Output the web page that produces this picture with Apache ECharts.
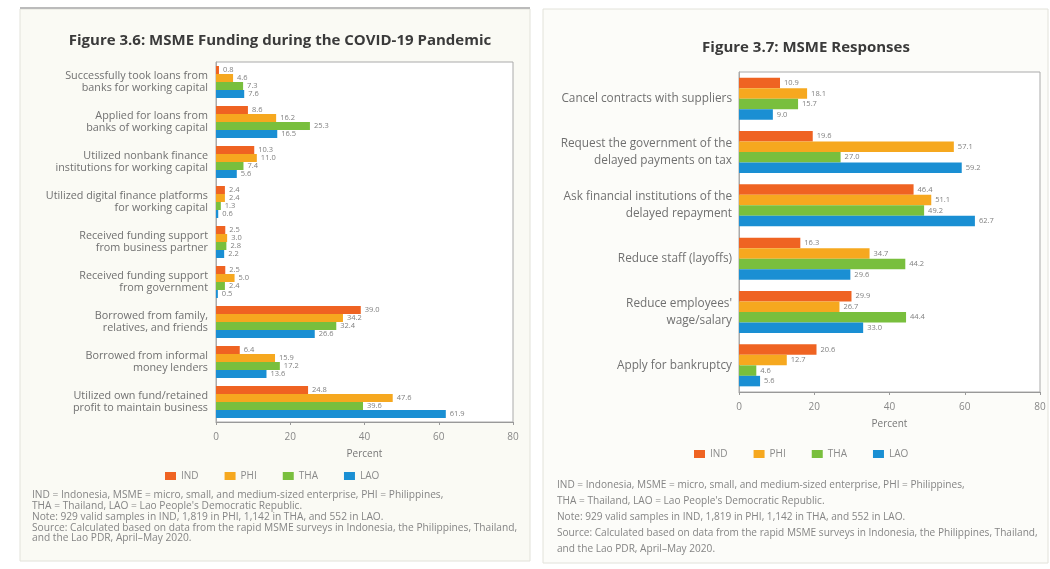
<!DOCTYPE html>
<html>
<head>
<meta charset="utf-8">
<script src="https://cdn.jsdelivr.net/npm/echarts@6/dist/echarts.min.js"></script>
<style>
  html, body { margin: 0; padding: 0; background: #ffffff; }
  #chart { width: 1050px; height: 569px; }
</style>
</head>
<body>
<div id="chart"></div>
<script>
// Figure 3.6 — funding sources (percent of MSMEs)
const fundingCategories = [
  'Successfully took loans from\nbanks for working capital',
  'Applied for loans from\nbanks of working capital',
  'Utilized nonbank finance\ninstitutions for working capital',
  'Utilized digital finance platforms\nfor working capital',
  'Received funding support\nfrom business partner',
  'Received funding support\nfrom government',
  'Borrowed from family,\nrelatives, and friends',
  'Borrowed from informal\nmoney lenders',
  'Utilized own fund/retained\nprofit to maintain business'
];
const fundingIND = [0.8, 8.6, 10.3, 2.4, 2.5, 2.5, 39.0, 6.4, 24.8];
const fundingPHI = [4.6, 16.2, 11.0, 2.4, 3.0, 5.0, 34.2, 15.9, 47.6];
const fundingTHA = [7.3, 25.3, 7.4, 1.3, 2.8, 2.4, 32.4, 17.2, 39.6];
const fundingLAO = [7.6, 16.5, 5.6, 0.6, 2.2, 0.5, 26.6, 13.6, 61.9];

// Figure 3.7 — responses (percent of MSMEs)
const responseCategories = [
  'Cancel contracts with suppliers',
  'Request the government of the\ndelayed payments on tax',
  'Ask financial institutions of the\ndelayed repayment',
  'Reduce staff (layoffs)',
  "Reduce employees'\nwage/salary",
  'Apply for bankruptcy'
];
const responseIND = [10.9, 19.6, 46.4, 16.3, 29.9, 20.6];
const responsePHI = [18.1, 57.1, 51.1, 34.7, 26.7, 12.7];
const responseTHA = [15.7, 27.0, 49.2, 44.2, 44.4, 4.6];
const responseLAO = [9.0, 59.2, 62.7, 29.6, 33.0, 5.6];

const countries = ['IND', 'PHI', 'THA', 'LAO'];
const percentTicks = [0, 20, 40, 60, 80];

const colors = ['#ef6322', '#f6a81f', '#79bf3d', '#1a8fd3'];
const FONT = '"Open Sans", "Noto Sans", sans-serif';

const notesLeft = [
  'IND = Indonesia, MSME = micro, small, and medium-sized enterprise, PHI = Philippines,',
  "THA = Thailand, LAO = Lao People's Democratic Republic.",
  'Note: 929 valid samples in IND, 1,819 in PHI, 1,142 in THA, and 552 in LAO.',
  'Source: Calculated based on data from the rapid MSME surveys in Indonesia, the Philippines, Thailand,',
  'and the Lao PDR, April–May 2020.'
];
const notesRight = notesLeft.slice();

function valueLabel() {
  return {
    show: true, position: 'right', distance: 4,
    color: '#808080', fontSize: 7.5, fontFamily: FONT,
    formatter: p => p.value.toFixed(1)
  };
}

function makeSeries(data, idx, axisIndex, barW) {
  return {
    name: countries[idx],
    type: 'bar',
    xAxisIndex: axisIndex,
    yAxisIndex: axisIndex,
    data: data,
    barWidth: barW,
    barGap: '0%',
    itemStyle: { color: colors[idx] },
    label: valueLabel()
  };
}

const chart = echarts.init(document.getElementById('chart'));

const legendBase = {
  data: countries,
  itemWidth: 11, itemHeight: 8, itemGap: 26,
  icon: 'rect',
  textStyle: { fontSize: 10, color: '#8a8a8a', fontFamily: FONT },
  selectedMode: false
};

const option = {
  animation: false,
  backgroundColor: '#ffffff',
  textStyle: { fontFamily: FONT },
  title: [
    {
      text: 'Figure 3.6: MSME Funding during the COVID-19 Pandemic',
      left: 275, top: 28, textAlign: 'center',
      textStyle: { fontSize: 15, fontWeight: 'bold', color: '#3a3a3a', fontFamily: FONT }
    },
    {
      text: 'Figure 3.7: MSME Responses',
      left: 801, top: 35, textAlign: 'center',
      textStyle: { fontSize: 15, fontWeight: 'bold', color: '#3a3a3a', fontFamily: FONT }
    }
  ],
  legend: [
    Object.assign({ left: 160, top: 466 }, legendBase),
    Object.assign({ left: 689, top: 444 }, legendBase)
  ],
  grid: [
    { left: 216, top: 62, width: 297, height: 360, show: true, borderColor: '#aaa', borderWidth: 1, backgroundColor: '#fff' },
    { left: 739, top: 72, width: 301, height: 320, show: true, borderColor: '#aaa', borderWidth: 1, backgroundColor: '#fff' }
  ],
  xAxis: [0, 1].map(i => ({
    type: 'value', gridIndex: i, min: 0, max: 80, interval: 20,
    name: 'Percent', nameLocation: 'middle', nameGap: 27,
    nameTextStyle: { fontSize: 10, color: '#777', fontFamily: FONT },
    axisLine: { show: true, lineStyle: { color: '#999' } },
    axisTick: { show: true, length: 3, lineStyle: { color: '#999' } },
    axisLabel: {
      fontSize: 10, color: '#888', margin: 10, fontFamily: FONT,
      formatter: v => percentTicks.includes(v) ? String(v) : ''
    },
    splitLine: { show: false }
  })),
  yAxis: [
    {
      type: 'category', gridIndex: 0, data: fundingCategories, inverse: true,
      axisLine: { show: true, lineStyle: { color: '#aaa' } },
      axisTick: { show: false },
      axisLabel: { fontSize: 10.8, color: '#707070', lineHeight: 12.5, margin: 8, fontFamily: FONT, align: 'right' }
    },
    {
      type: 'category', gridIndex: 1, data: responseCategories, inverse: true,
      axisLine: { show: true, lineStyle: { color: '#aaa' } },
      axisTick: { show: false },
      axisLabel: { fontSize: 11.8, color: '#707070', lineHeight: 17, margin: 7, fontFamily: FONT, align: 'right' }
    }
  ],
  series: [
    makeSeries(fundingIND, 0, 0, 8),
    makeSeries(fundingPHI, 1, 0, 8),
    makeSeries(fundingTHA, 2, 0, 8),
    makeSeries(fundingLAO, 3, 0, 8),
    makeSeries(responseIND, 0, 1, 10.5),
    makeSeries(responsePHI, 1, 1, 10.5),
    makeSeries(responseTHA, 2, 1, 10.5),
    makeSeries(responseLAO, 3, 1, 10.5)
  ],
  graphic: [
    // panel frames
    { type: 'rect', z: -10, shape: { x: 20, y: 9, width: 510, height: 552 },
      style: { fill: '#fafaf4', stroke: '#e2e2da', lineWidth: 1 } },
    { type: 'line', z: -9, shape: { x1: 20, y1: 8, x2: 530, y2: 8 },
      style: { stroke: '#bbb', lineWidth: 2 } },
    { type: 'rect', z: -10, shape: { x: 543, y: 9, width: 505, height: 554 },
      style: { fill: '#fcfcf9', stroke: '#e2e2da', lineWidth: 1 } },
    // footnotes
    { type: 'text', left: 32, top: 490,
      style: { text: notesLeft.join('\n'), fontSize: 10.2, lineHeight: 10.8, fill: '#858585', fontFamily: FONT } },
    { type: 'text', left: 557, top: 477,
      style: { text: notesRight.join('\n'), fontSize: 10.1, lineHeight: 16, fill: '#858585', fontFamily: FONT } }
  ]
};

chart.setOption(option);
</script>
</body>
</html>
